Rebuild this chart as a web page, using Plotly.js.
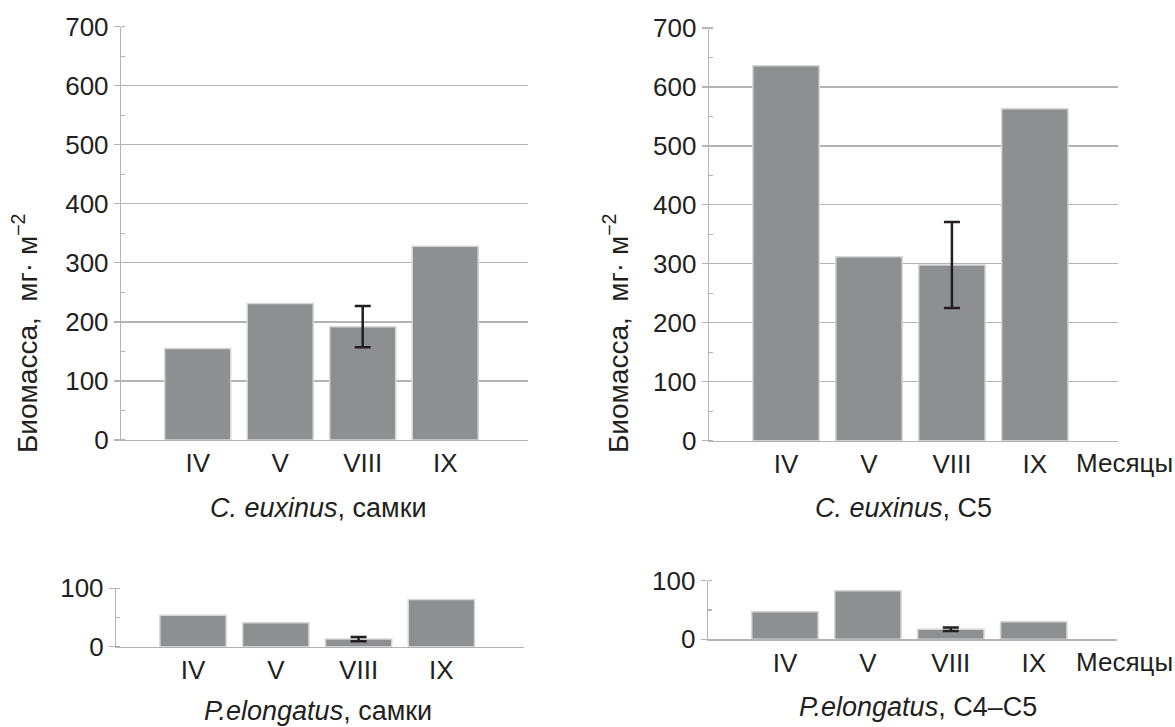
<!DOCTYPE html>
<html>
<head>
<meta charset="utf-8">
<script src="https://cdn.plot.ly/plotly-3.0.1.min.js"></script>
<style>html,body{margin:0;padding:0;background:#fff;}#chart{width:1175px;height:727px;}</style>
</head>
<body>
<div id="chart"></div>
<script>
// ---- data ----
const months = ['IV', 'V', 'VIII', 'IX'];
const ceuxFemales = [155, 231, 192, 328];
const ceuxFemalesErr = [null, null, 35, null];
const ceuxC5 = [636, 312, 298, 563];
const ceuxC5Err = [null, null, 73, null];
const pelongFemales = [54, 41, 13, 81];
const pelongFemalesErr = [null, null, 3.5, null];
const pelongC45 = [47, 83, 17, 30];
const pelongC45Err = [null, null, 3, null];

const yTitle = 'Биомасса,  мг· м<sup>−2</sup>';
const subtitles = ['<i>C. euxinus</i>, самки', '<i>C. euxinus</i>, C5', '<i>P.elongatus</i>, самки', '<i>P.elongatus</i>, C4–C5'];
const monthsLabel = 'Месяцы';

// ---- styling ----
const W = 1175, H = 727;
const FONT = 'Liberation Sans, Arial, sans-serif';
const TXT = '#231f20';
const BAR = '#8e8f91';
const GRID = '#b4b4b4';

function px2x(p){ return p / W; }
function px2y(p){ return 1 - p / H; }

function barTrace(y, xa, ya){
  return {
    type: 'bar', x: months, y: y, xaxis: xa, yaxis: ya,
    marker: {color: BAR, line: {color: '#d6d6d6', width: 1.5}},
    hoverinfo: 'skip', showlegend: false
  };
}
function errTrace(y, err, xa, ya){
  // only the points that carry an error value
  const yy = y.map((v, i) => (err[i] == null ? null : v));
  return {
    type: 'scatter', mode: 'markers', x: months, y: yy, xaxis: xa, yaxis: ya,
    marker: {size: 1, opacity: 0},
    error_y: {type: 'data', array: err.map(e => (e == null ? 0 : e)), visible: true, color: TXT, thickness: 2.5, width: 8},
    hoverinfo: 'skip', showlegend: false, cliponaxis: false
  };
}

const data = [
  barTrace(ceuxFemales, 'x', 'y'),
  barTrace(ceuxC5, 'x2', 'y2'),
  barTrace(pelongFemales, 'x3', 'y3'),
  barTrace(pelongC45, 'x4', 'y4'),
  errTrace(ceuxFemales, ceuxFemalesErr, 'x', 'y'),
  errTrace(ceuxC5, ceuxC5Err, 'x2', 'y2'),
  errTrace(pelongFemales, pelongFemalesErr, 'x3', 'y3'),
  errTrace(pelongC45, pelongC45Err, 'x4', 'y4')
];

function xAxis(d0, d1, anchor){
  return {
    domain: [px2x(d0), px2x(d1)], anchor: anchor, type: 'category',
    range: [-0.93, 4.0], showgrid: false, zeroline: false,
    showline: true, linecolor: GRID, linewidth: 1.2,
    ticks: '', tickfont: {family: FONT, size: 26, color: TXT},
    fixedrange: true
  };
}
function yAxis(p0, p1, anchor, maxv){
  return {
    domain: [px2y(p0), px2y(p1)], anchor: anchor,
    range: [0, maxv], dtick: 100, tick0: 0,
    showgrid: true, gridcolor: GRID, gridwidth: 1.2, zeroline: false,
    showline: true, linecolor: GRID, linewidth: 1.2,
    ticks: 'outside', ticklen: 6, tickcolor: GRID, tickwidth: 1.2,
    minor: {ticks: 'inside', ticklen: 4, dtick: 50, tickcolor: GRID, tickwidth: 1.2, showgrid: false},
    tickfont: {family: FONT, size: 26, color: TXT},
    fixedrange: true
  };
}

const layout = {
  width: W, height: H,
  margin: {l: 0, r: 0, t: 0, b: 0},
  paper_bgcolor: '#fff', plot_bgcolor: 'rgba(0,0,0,0)',
  bargap: 0.2,
  showlegend: false,
  xaxis: xAxis(121, 527.7, 'y'),
  yaxis: yAxis(440, 26.7, 'x', 700),
  xaxis2: xAxis(708.9, 1117.8, 'y2'),
  yaxis2: yAxis(440.7, 28, 'x2', 700),
  xaxis3: xAxis(116, 524.2, 'y3'),
  yaxis3: yAxis(646.7, 588.3, 'x3', 100),
  xaxis4: xAxis(707.8, 1116.7, 'y4'),
  yaxis4: yAxis(639.3, 580.7, 'x4', 100),
  annotations: [
    {text: yTitle, x: px2x(25), y: px2y(334), xref: 'paper', yref: 'paper', textangle: -90, showarrow: false, xanchor: 'center', yanchor: 'middle', font: {family: FONT, size: 28, color: TXT}},
    {text: yTitle, x: px2x(616), y: px2y(334), xref: 'paper', yref: 'paper', textangle: -90, showarrow: false, xanchor: 'center', yanchor: 'middle', font: {family: FONT, size: 28, color: TXT}},
    {text: subtitles[0], x: px2x(318), y: px2y(508), xref: 'paper', yref: 'paper', showarrow: false, xanchor: 'center', yanchor: 'middle', font: {family: FONT, size: 27, color: TXT}},
    {text: subtitles[1], x: px2x(903), y: px2y(508), xref: 'paper', yref: 'paper', showarrow: false, xanchor: 'center', yanchor: 'middle', font: {family: FONT, size: 27, color: TXT}},
    {text: subtitles[2], x: px2x(318), y: px2y(711), xref: 'paper', yref: 'paper', showarrow: false, xanchor: 'center', yanchor: 'middle', font: {family: FONT, size: 27, color: TXT}},
    {text: subtitles[3], x: px2x(918), y: px2y(707), xref: 'paper', yref: 'paper', showarrow: false, xanchor: 'center', yanchor: 'middle', font: {family: FONT, size: 27, color: TXT}},
    {text: monthsLabel, x: px2x(1074), y: px2y(463), xref: 'paper', yref: 'paper', showarrow: false, xanchor: 'left', yanchor: 'middle', font: {family: FONT, size: 26, color: TXT}},
    {text: monthsLabel, x: px2x(1074), y: px2y(662), xref: 'paper', yref: 'paper', showarrow: false, xanchor: 'left', yanchor: 'middle', font: {family: FONT, size: 26, color: TXT}}
  ]
};

Plotly.newPlot('chart', data, layout, {displayModeBar: false, staticPlot: true});
</script>
</body>
</html>
